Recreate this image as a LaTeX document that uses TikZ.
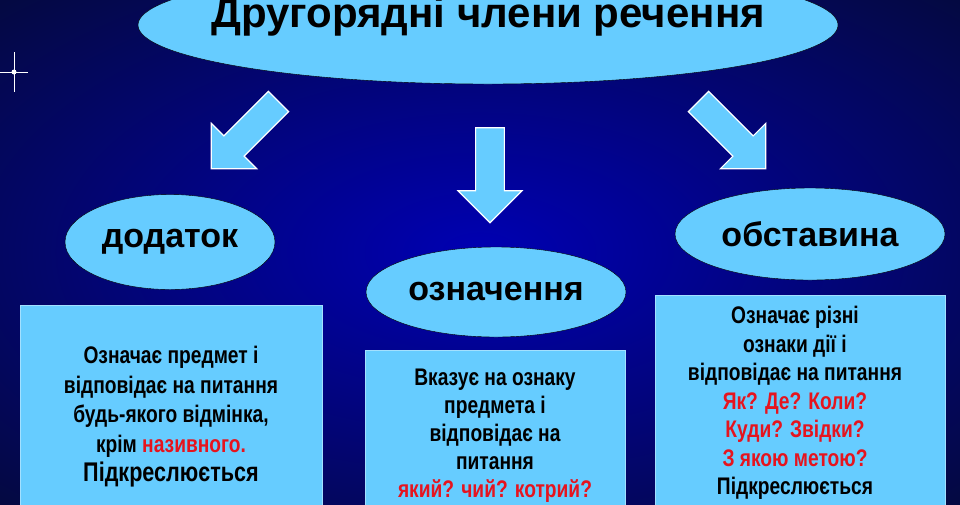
\documentclass[tikz,border=0pt]{standalone}
\usepackage{fontspec}
\setmainfont{Liberation Sans}
\newfontfamily\narrowfont[FakeStretch=0.8]{Liberation Sans}
\usetikzlibrary{shapes.geometric,shapes.arrows}
\definecolor{mysky}{RGB}{102,204,255}
\definecolor{mynavy}{RGB}{8,16,120}
\definecolor{myred}{RGB}{230,20,30}
\tikzstyle{oval}=[ellipse, draw=black, fill=mysky, font=\bfseries\fontsize{34}{38}\selectfont]
\tikzstyle{infobox}=[rectangle, draw=mysky!60!white, fill=mysky, anchor=north west, align=center, inner sep=0pt]
\tikzstyle{boxtext}=[align=center, font=\narrowfont\bfseries\fontsize{24}{28.5}\selectfont]
\tikzstyle{bigarrow}=[single arrow, draw=white, fill=mysky, line width=1.2pt, minimum height=95pt, minimum width=64pt, single arrow head extend=13pt, inner sep=10pt]
\begin{document}
\begin{tikzpicture}[x=1pt,y=-1pt]
\useasboundingbox (0,0) rectangle (960,504);
\clip (0,0) rectangle (960,504);
\shade[inner color=blue!70!black, outer color=mynavy!55!black] (-200,-100) rectangle (1160,604);
% sparkle
\draw[white, line width=0.6pt] (0,72) -- (28,72) (14,52) -- (14,92);
\fill[white] (14,72) circle (2.5pt);

\node[oval, minimum width=700pt, minimum height=118pt] (title) at (488,25) {};
\node[font=\bfseries\fontsize{42}{46}\selectfont] (titletext) at (488,17) {Другорядні члени речення};

\node[bigarrow, rotate=-135] (arrowl) at (250,130) {};
\node[bigarrow, rotate=-90] (arrowm) at (490,168) {};
\node[bigarrow, rotate=-45] (arrowr) at (727,130) {};

\node[oval, minimum width=210pt, minimum height=95pt] (dodatok) at (170,242) {додаток};
\node[oval, minimum width=260pt, minimum height=90pt] (oznachennia) at (496,292) {означення};
\node[oval, minimum width=270pt, minimum height=92pt] (obstavyna) at (810,234) {обставина};

\node[infobox, minimum width=302pt, minimum height=230pt] (boxl) at (20,305) {};
\node[boxtext, font=\narrowfont\bfseries\fontsize{24}{29.5}\selectfont] (textl) at (171,417) {Означає предмет і\\відповідає на питання\\будь-якого відмінка,\\крім \textcolor{myred}{називного.}\\{\fontsize{27}{29.5}\selectfont Підкреслюється}};

\node[infobox, minimum width=260pt, minimum height=200pt] (boxm) at (365,350) {};
\node[boxtext, font=\narrowfont\bfseries\fontsize{24}{28}\selectfont] (textm) at (495,436) {Вказує на ознаку\\предмета і\\відповідає на\\питання\\\textcolor{myred}{який? чий? котрий?}};

\node[infobox, minimum width=290pt, minimum height=240pt] (boxr) at (655,295) {};
\node[boxtext] (textr) at (795,403) {Означає різні\\ознаки дії і\\відповідає на питання\\\textcolor{myred}{Як? Де? Коли?}\\\textcolor{myred}{Куди? Звідки?}\\\textcolor{myred}{З якою метою?}\\Підкреслюється};
\end{tikzpicture}
\end{document}
